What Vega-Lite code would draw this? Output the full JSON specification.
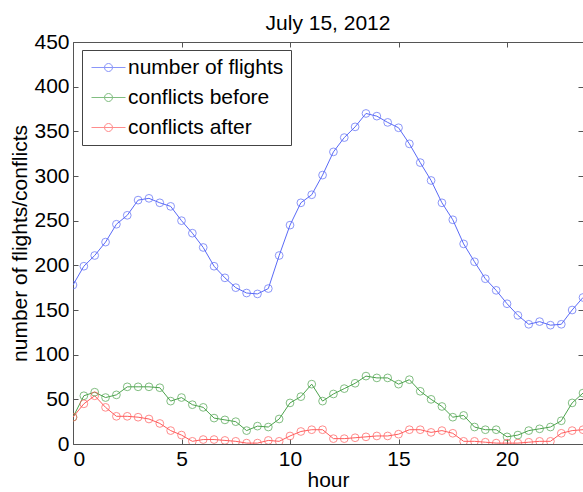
{
  "$schema": "https://vega.github.io/schema/vega-lite/v6.json",
  "width": 510,
  "height": 402,
  "autosize": {"type": "none"},
  "padding": {"left": 73, "top": 42, "right": 0, "bottom": 48},
  "background": "white",
  "title": {"text": "July 15, 2012", "fontSize": 21, "font": "Liberation Sans", "fontWeight": "normal", "color": "black", "anchor": "middle", "offset": -3},
  "config": {
    "view": {"stroke": "#555555", "strokeWidth": 1},
    "axis": {
      "grid": false,
      "domain": false,
      "tickSize": -5,
      "tickColor": "#555555",
      "tickWidth": 1,
      "labelFont": "Liberation Sans",
      "labelFontSize": 21,
      "labelColor": "black",
      "titleFont": "Liberation Sans",
      "titleFontSize": 21,
      "titleFontWeight": "normal",
      "titleColor": "black"
    }
  },
  "data": {
    "values": [
      {"hour": 0, "number of flights": 178, "conflicts before": 30, "conflicts after": 30},
      {"hour": 0.5, "number of flights": 199, "conflicts before": 54, "conflicts after": 45},
      {"hour": 1, "number of flights": 211, "conflicts before": 58, "conflicts after": 54},
      {"hour": 1.5, "number of flights": 226, "conflicts before": 52, "conflicts after": 41},
      {"hour": 2, "number of flights": 246, "conflicts before": 55, "conflicts after": 31},
      {"hour": 2.5, "number of flights": 256, "conflicts before": 64, "conflicts after": 31},
      {"hour": 3, "number of flights": 273, "conflicts before": 64, "conflicts after": 30},
      {"hour": 3.5, "number of flights": 275, "conflicts before": 64, "conflicts after": 28},
      {"hour": 4, "number of flights": 270, "conflicts before": 63, "conflicts after": 23},
      {"hour": 4.5, "number of flights": 266, "conflicts before": 48, "conflicts after": 15},
      {"hour": 5, "number of flights": 250, "conflicts before": 52, "conflicts after": 10},
      {"hour": 5.5, "number of flights": 236, "conflicts before": 44, "conflicts after": 3},
      {"hour": 6, "number of flights": 220, "conflicts before": 41, "conflicts after": 5},
      {"hour": 6.5, "number of flights": 199, "conflicts before": 29, "conflicts after": 5},
      {"hour": 7, "number of flights": 186, "conflicts before": 27, "conflicts after": 4},
      {"hour": 7.5, "number of flights": 175, "conflicts before": 25, "conflicts after": 3},
      {"hour": 8, "number of flights": 169, "conflicts before": 15, "conflicts after": 1},
      {"hour": 8.5, "number of flights": 168, "conflicts before": 20, "conflicts after": 1},
      {"hour": 9, "number of flights": 174, "conflicts before": 19, "conflicts after": 4},
      {"hour": 9.5, "number of flights": 211, "conflicts before": 28, "conflicts after": 3},
      {"hour": 10, "number of flights": 245, "conflicts before": 46, "conflicts after": 9},
      {"hour": 10.5, "number of flights": 270, "conflicts before": 53, "conflicts after": 14},
      {"hour": 11, "number of flights": 279, "conflicts before": 67, "conflicts after": 16},
      {"hour": 11.5, "number of flights": 301, "conflicts before": 48, "conflicts after": 16},
      {"hour": 12, "number of flights": 327, "conflicts before": 56, "conflicts after": 6},
      {"hour": 12.5, "number of flights": 343, "conflicts before": 62, "conflicts after": 6},
      {"hour": 13, "number of flights": 355, "conflicts before": 68, "conflicts after": 7},
      {"hour": 13.5, "number of flights": 370, "conflicts before": 76, "conflicts after": 8},
      {"hour": 14, "number of flights": 367, "conflicts before": 74, "conflicts after": 9},
      {"hour": 14.5, "number of flights": 360, "conflicts before": 74, "conflicts after": 9},
      {"hour": 15, "number of flights": 354, "conflicts before": 67, "conflicts after": 11},
      {"hour": 15.5, "number of flights": 336, "conflicts before": 72, "conflicts after": 16},
      {"hour": 16, "number of flights": 315, "conflicts before": 59, "conflicts after": 16},
      {"hour": 16.5, "number of flights": 295, "conflicts before": 50, "conflicts after": 13},
      {"hour": 17, "number of flights": 270, "conflicts before": 42, "conflicts after": 15},
      {"hour": 17.5, "number of flights": 251, "conflicts before": 30, "conflicts after": 12},
      {"hour": 18, "number of flights": 224, "conflicts before": 32, "conflicts after": 3},
      {"hour": 18.5, "number of flights": 204, "conflicts before": 19, "conflicts after": 3},
      {"hour": 19, "number of flights": 185, "conflicts before": 16, "conflicts after": 2},
      {"hour": 19.5, "number of flights": 172, "conflicts before": 16, "conflicts after": 1},
      {"hour": 20, "number of flights": 157, "conflicts before": 8, "conflicts after": 1},
      {"hour": 20.5, "number of flights": 144, "conflicts before": 10, "conflicts after": 1},
      {"hour": 21, "number of flights": 134, "conflicts before": 15, "conflicts after": 2},
      {"hour": 21.5, "number of flights": 137, "conflicts before": 17, "conflicts after": 3},
      {"hour": 22, "number of flights": 133, "conflicts before": 19, "conflicts after": 3},
      {"hour": 22.5, "number of flights": 134, "conflicts before": 26, "conflicts after": 12},
      {"hour": 23, "number of flights": 150, "conflicts before": 46, "conflicts after": 15},
      {"hour": 23.5, "number of flights": 164, "conflicts before": 57, "conflicts after": 16}
    ]
  },
  "transform": [
    {"fold": ["number of flights", "conflicts before", "conflicts after"], "as": ["series", "value"]}
  ],
  "layer": [
    {
      "mark": {"type": "line", "strokeWidth": 1, "clip": true},
      "encoding": {
        "x": {"field": "hour", "type": "quantitative", "scale": {"domain": [0, 23.5], "nice": false, "zero": false},
          "axis": {"orient": "bottom", "values": [0, 5, 10, 15, 20], "title": "hour", "labelPadding": 9, "titlePadding": 0}},
        "y": {"field": "value", "type": "quantitative", "scale": {"domain": [0, 450], "nice": false},
          "axis": {"orient": "left", "values": [0, 50, 100, 150, 200, 250, 300, 350, 400, 450], "title": "number of flights/conflicts", "labelPadding": 9, "titlePadding": 3}},
        "color": {"field": "series", "type": "nominal",
          "scale": {"domain": ["number of flights", "conflicts before", "conflicts after"], "range": ["#5a6af7", "#4da34d", "#ff5c5c"]},
          "legend": {
            "title": null,
            "orient": "none",
            "legendX": 9,
            "legendY": 8,
            "symbolType": "M-2.125,0L2.125,0M-0.5,0A0.5,0.5,0,1,1,0.5,0A0.5,0.5,0,1,1,-0.5,0",
            "symbolSize": 256,
            "symbolStrokeWidth": 1,
            "symbolFillColor": "transparent",
            "symbolOffset": 9,
            "labelFont": "Liberation Sans",
            "labelFontSize": 21,
            "labelColor": "black",
            "labelOffset": 9,
            "rowPadding": 8,
            "padding": 7,
            "strokeColor": "#444444",
            "fillColor": "white"
          }
        }
      }
    },
    {
      "mark": {"type": "point", "filled": false, "size": 60, "strokeWidth": 1, "clip": true},
      "encoding": {
        "x": {"field": "hour", "type": "quantitative", "axis": null},
        "y": {"field": "value", "type": "quantitative", "axis": null},
        "color": {"field": "series", "type": "nominal"}
      }
    },
    {
      "mark": {"type": "point", "opacity": 0},
      "encoding": {
        "x": {"field": "hour", "type": "quantitative", "axis": {"orient": "top", "values": [0, 5, 10, 15, 20], "labels": false, "title": null}},
        "y": {"field": "value", "type": "quantitative", "axis": {"orient": "right", "values": [0, 50, 100, 150, 200, 250, 300, 350, 400, 450], "labels": false, "title": null}}
      }
    }
  ],
  "resolve": {"axis": {"x": "independent", "y": "independent"}}
}
